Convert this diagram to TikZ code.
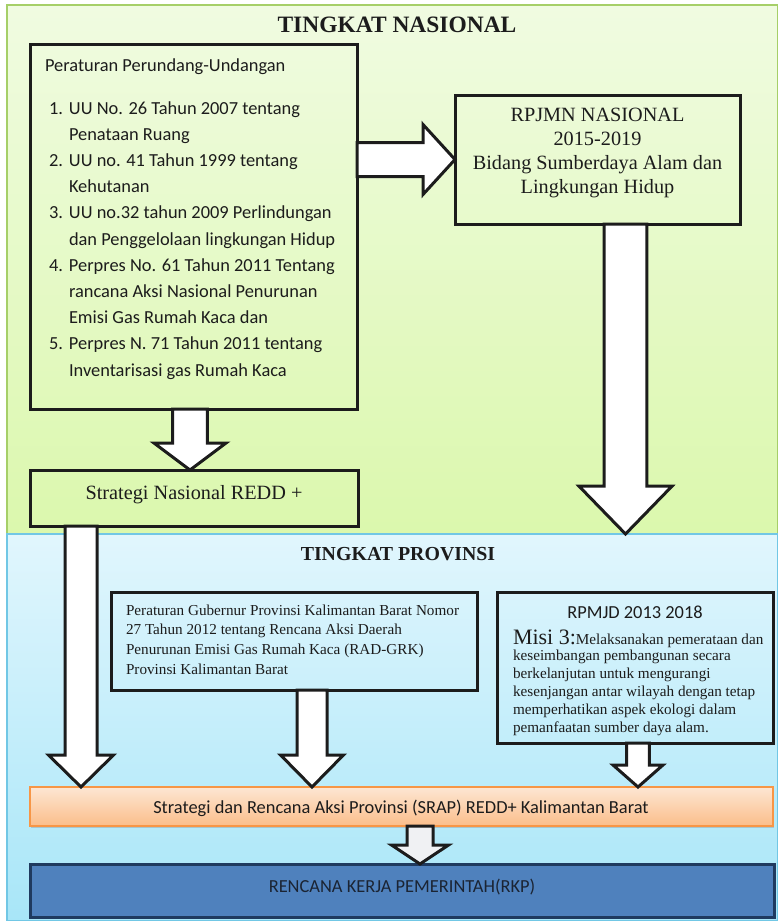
\documentclass[tikz,border=0pt]{standalone}
\usepackage{fontspec}
\setmainfont{Liberation Serif}
\newfontfamily\calib{Carlito}
\usetikzlibrary{calc,shadows}

\definecolor{inkdark}{HTML}{1C1C1C}
\definecolor{natTop}{HTML}{F0FBE1}
\definecolor{natBot}{HTML}{DBF8AD}
\definecolor{natEdge}{HTML}{A6CF68}
\definecolor{provTop}{HTML}{E1F6FD}
\definecolor{provBot}{HTML}{A8E6F8}
\definecolor{provEdge}{HTML}{71C7E5}
\definecolor{srapTop}{HTML}{FDE6D3}
\definecolor{srapBot}{HTML}{FBBE8A}
\definecolor{srapEdge}{HTML}{F79646}
\definecolor{rkpFill}{HTML}{4F81BD}
\definecolor{rkpEdge}{HTML}{1F3A5F}
\definecolor{rkpInk}{HTML}{1B2433}
\definecolor{arrowGrey}{HTML}{F0F1F3}

% one drawing unit = one pixel of the layout grid
\newlength\pxu \setlength\pxu{0.75pt}

% block arrow pointing down: style, from, tip, shaft half-width, head half-width, head length
\newcommand\blkdown[6]{%
  \draw[#1] let \p1=#2, \p2=#3 in
    (\x1-#4,\y1) -- (\x1+#4,\y1) -- (\x1+#4,\y2+#6) -- (\x1+#5,\y2+#6)
    -- (\x1,\y2) -- (\x1-#5,\y2+#6) -- (\x1-#4,\y2+#6) -- cycle;}
% block arrow pointing right: style, from, tip, shaft half-width, head half-width, head length
\newcommand\blkright[6]{%
  \draw[#1] let \p1=#2, \p2=#3 in
    (\x1,\y1+#4) -- (\x2-#6,\y1+#4) -- (\x2-#6,\y1+#5) -- (\x2,\y1)
    -- (\x2-#6,\y1-#5) -- (\x2-#6,\y1-#4) -- (\x1,\y1-#4) -- cycle;}

\newcommand\lawitem[2]{\hspace*{3pt}\makebox[15pt][l]{#1}#2}
\newcommand\lawcont[1]{\hspace*{18pt}#1}

\begin{document}
\begin{tikzpicture}[x=0.75pt,y=-0.75pt,line join=miter,
  every node/.append style={text=inkdark},
  size/.style 2 args={minimum width=#1*0.75pt,minimum height=#2*0.75pt},
  panel/.style={inner sep=0,outer sep=0,line width=0.9pt},
  framebox/.style={draw=inkdark,line width=2.25pt,inner sep=0,outer sep=0},
  srapbox/.style={draw=srapEdge,line width=0.9pt,inner sep=0,outer sep=0,
    top color=srapTop,bottom color=srapBot,
    drop shadow={shadow xshift=0.6pt,shadow yshift=-1.6pt,fill=black!40,opacity=0.45}},
  rkpbox/.style={draw=rkpEdge,fill=rkpFill,line width=2.25pt,inner sep=0,outer sep=0},
  blockarrow/.style={draw=inkdark,fill=white,line width=2.25pt},
  greyarrow/.style={blockarrow,fill=arrowGrey},
  txt/.style={inner sep=0,outer sep=0}]

\fill[white] (0,0) rectangle (778,921);
\useasboundingbox (0,0) rectangle (778,921);

% two level panels
\node[panel,size={771}{529},top color=natTop,bottom color=natBot,draw=natEdge] (nas) at (392.5,269.5) {};
\node[panel,size={771}{387},top color=provTop,bottom color=provBot,draw=provEdge] (prov) at (392.5,727.5) {};

% column guides for the vertical arrows
\coordinate (colA) at (81,0);
\coordinate (colB) at (190,0);
\coordinate (colC) at (625.5,0);
\coordinate (colD) at (312,0);
\coordinate (colE) at (638,0);
\coordinate (colF) at (420,0);

% boxes
\node[framebox,size={327}{365}] (laws) at (193.5,226.5) {};
\node[framebox,size={285}{129}] (rpjmn) at (597.5,159.5) {};
\node[framebox,size={328}{56}] (strat) at (194,498) {};
\node[framebox,size={366}{98}] (pergub) at (294,641) {};
\node[framebox,size={276}{151}] (rpmjd) at (635,667.5) {};
\node[srapbox,size={743}{39}] (srap) at (401.5,806.5) {};
\node[rkpbox,size={744}{53}] (rkp) at (402,890.5) {};

% arrows
\blkright{blockarrow}{(rpjmn.west -| laws.east)}{(rpjmn.west)}{12.75pt}{26.25pt}{24pt}
\blkdown{blockarrow}{(colB |- laws.south)}{(colB |- strat.north)}{13pt}{27pt}{20.25pt}
\blkdown{blockarrow}{(colC |- rpjmn.south)}{(colC |- nas.south)}{16pt}{35pt}{36pt}
\blkdown{blockarrow}{(colA |- strat.south)}{(colA |- srap.north)}{12pt}{24.4pt}{24pt}
\blkdown{blockarrow}{(colD |- pergub.south)}{(colD |- srap.north)}{11.25pt}{23.6pt}{24pt}
\blkdown{blockarrow}{(colE |- rpmjd.south)}{(colE |- srap.north)}{8.6pt}{18.75pt}{16.5pt}
\blkdown{greyarrow}{(colF |- srap.south)}{(colF |- rkp.north)}{9.75pt}{21.4pt}{14.25pt}

% titles
\node[txt,anchor=base,font=\bfseries\fontsize{17.6}{20}\selectfont] (titleNas) at (397,32) {TINGKAT NASIONAL};
\node[txt,anchor=base,font=\bfseries\fontsize{14.9}{18}\selectfont] (titleProv) at (398,560.5) {TINGKAT PROVINSI};

% box texts
\node[txt,anchor=base west] (lawsText) at (45,71) {\parbox[t]{300\pxu}{\raggedright\calib\fontsize{13.8}{19.65}\selectfont
Peraturan Perundang-Undangan\\[12.6pt]
\lawitem{1.}{UU No. 26 Tahun 2007 tentang}\\
\lawcont{Penataan Ruang}\\
\lawitem{2.}{UU no. 41 Tahun 1999 tentang}\\
\lawcont{Kehutanan}\\
\lawitem{3.}{UU no.32 tahun 2009 Perlindungan}\\
\lawcont{dan Penggelolaan lingkungan Hidup}\\
\lawitem{4.}{Perpres No. 61 Tahun 2011 Tentang}\\
\lawcont{rancana Aksi Nasional Penurunan}\\
\lawcont{Emisi Gas Rumah Kaca dan}\\
\lawitem{5.}{Perpres N. 71 Tahun 2011 tentang}\\
\lawcont{Inventarisasi gas Rumah Kaca}}};

\node[txt,anchor=base] (rpjmnText) at (597.5,121.5) {\parbox[t]{270\pxu}{\centering\fontsize{15.2}{18}\selectfont
RPJMN NASIONAL\\2015-2019\\Bidang Sumberdaya Alam dan\\Lingkungan Hidup}};

\node[txt,anchor=base,font=\fontsize{15.2}{18}\selectfont] (stratText) at (194,499) {Strategi Nasional REDD +};

\node[txt,anchor=base west] (pergubText) at (126,615) {\parbox[t]{350\pxu}{\raggedright\fontsize{11.4}{14.8}\selectfont
Peraturan Gubernur Provinsi Kalimantan Barat Nomor\\
27 Tahun 2012 tentang Rencana Aksi Daerah\\
Penurunan Emisi Gas Rumah Kaca (RAD-GRK)\\
Provinsi Kalimantan Barat}};

\node[txt,anchor=base,font=\calib\fontsize{13.8}{16}\selectfont] (rpmjdTitle) at (635,618) {RPMJD 2013 2018};
\node[txt,anchor=base west] (rpmjdText) at (513,644) {\parbox[t]{258\pxu}{\raggedright\fontsize{11.4}{13.65}\selectfont
{\fontsize{16.5}{16.5}\selectfont Misi 3:}Melaksanakan pemerataan dan\\[-1.6pt]
keseimbangan pembangunan secara\\
berkelanjutan untuk mengurangi\\
kesenjangan antar wilayah dengan tetap\\
memperhatikan aspek ekologi dalam\\
pemanfaatan sumber daya alam.}};

\node[txt,anchor=base,font=\calib\fontsize{13.8}{16}\selectfont] (srapText) at (401,813) {Strategi dan Rencana Aksi Provinsi (SRAP) REDD+ Kalimantan Barat};
\node[txt,anchor=base,font=\calib\fontsize{13.8}{16}\selectfont,text=rkpInk] (rkpText) at (402,892) {RENCANA KERJA PEMERINTAH(RKP)};

\end{tikzpicture}
\end{document}
